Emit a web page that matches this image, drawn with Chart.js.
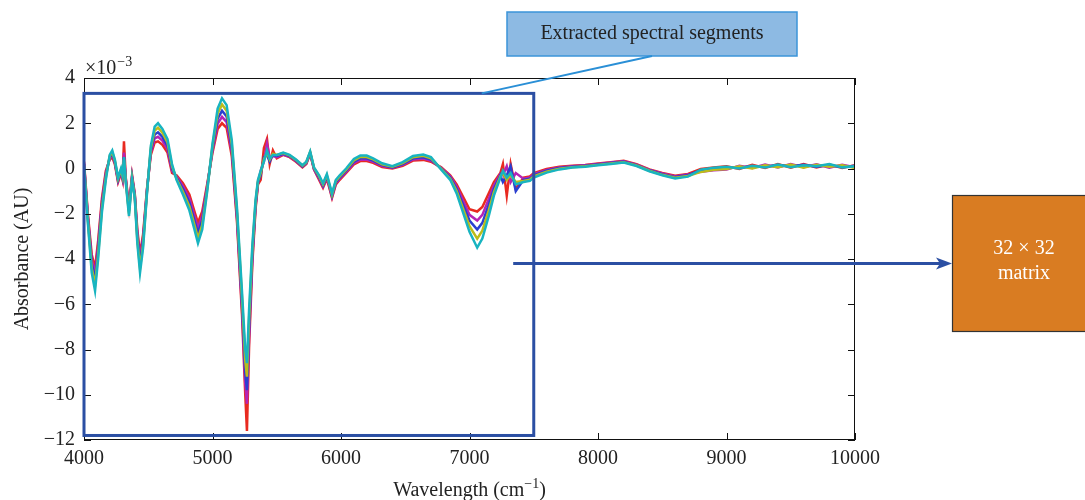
<!DOCTYPE html>
<html lang="en">
<head>
    <meta charset="UTF-8">
    <title>Extracted spectral segments</title>
    <style>
        body {
            margin: 0;
            background: #fff;
        }
        #wrap {
            width: 1085px;
            height: 500px;
            position: relative;
        }
    </style>
</head>
<body>
    <div id="wrap"><canvas id="spectraChart" width="1085" height="500"></canvas></div>
    <script src="https://cdn.jsdelivr.net/npm/chart.js@4"></script>
    <script>
        // wavenumber axis (cm^-1) shared by all spectra
        const wavenumbers = [
            4000, 4030, 4060, 4086, 4110, 4140, 4170, 4200, 4220, 4240,
            4265, 4288, 4300, 4311, 4325, 4350, 4374, 4395, 4415, 4436,
            4460, 4490, 4520, 4550, 4576, 4610, 4650, 4685, 4720, 4770,
            4820, 4860, 4887, 4920, 4960, 5000, 5040, 5074, 5110, 5150,
            5190, 5230, 5255, 5268, 5285, 5310, 5335, 5354, 5375, 5400,
            5424, 5445, 5470, 5500, 5550, 5600, 5650, 5700, 5730, 5760,
            5790, 5830, 5860, 5890, 5930, 5960, 5990, 6040, 6100, 6150,
            6200, 6250, 6320, 6400, 6480, 6560, 6640, 6700, 6780, 6850,
            6900, 6950, 7000, 7060, 7100, 7150, 7190, 7240, 7260, 7290,
            7320, 7360, 7420, 7470, 7500, 7600, 7700, 7800, 7900, 8000,
            8100, 8200, 8300, 8400, 8500, 8600, 8700, 8800, 8900, 9000,
            9100, 9200, 9300, 9400, 9500, 9600, 9700, 9800, 9900, 10000
        ];

        // absorbance values (x10^-3 AU), one array per spectrum
        const absCyan = [
            0.1, -2.4, -4.6, -5.4, -4.0, -1.9, -0.5, 0.6, 0.8, 0.4,
            -0.4, 0.0, -0.3, 0.5, -0.6, -2.1, -0.5, -1.3, -3.3, -4.6,
            -3.5, -1.1, 1.0, 1.85, 2.0, 1.75, 1.3, 0.2, -0.5, -1.15,
            -1.85, -2.7, -3.3, -2.7, -0.95, 1.1, 2.65, 3.1, 2.8, 1.25,
            -1.7, -5.5, -8.0, -8.6, -6.2, -3.4, -1.4, -0.5, -0.1, 0.3,
            0.8, 0.45, 0.6, 0.6, 0.7, 0.6, 0.4, 0.15, 0.3, 0.75,
            0.05, -0.3, -0.65, -0.25, -1.1, -0.5, -0.3, 0.0, 0.42, 0.57,
            0.57, 0.45, 0.23, 0.1, 0.28, 0.55, 0.62, 0.5, -0.05, -0.5,
            -1.1, -1.95, -2.8, -3.5, -3.1, -2.1, -1.2, -0.4, -0.1, -0.4,
            -0.2, -0.7, -0.6, -0.55, -0.4, -0.18, -0.04, 0.04, 0.08, 0.14,
            0.2, 0.26, 0.11, -0.12, -0.3, -0.44, -0.36, -0.05, 0.03, 0.08,
            0.0, 0.12, 0.04, 0.18, 0.06, 0.14, 0.1, 0.2, 0.05, 0.1
        ];
        const absOlive = [
            0.15, -2.3, -4.4, -5.15, -3.8, -1.75, -0.4, 0.55, 0.72, 0.35,
            -0.45, -0.05, -0.35, 0.4, -0.55, -2.0, -0.45, -1.25, -3.15, -4.4,
            -3.35, -1.05, 0.9, 1.68, 1.8, 1.58, 1.15, 0.1, -0.45, -1.03,
            -1.68, -2.5, -3.08, -2.5, -0.88, 1.0, 2.43, 2.83, 2.55, 1.08,
            -1.85, -5.75, -8.5, -9.2, -6.6, -3.6, -1.5, -0.55, -0.2, 0.4,
            0.7, 0.4, 0.65, 0.6, 0.68, 0.58, 0.38, 0.13, 0.28, 0.73,
            0.03, -0.35, -0.7, -0.3, -1.15, -0.55, -0.35, -0.05, 0.36, 0.51,
            0.51, 0.4, 0.19, 0.08, 0.24, 0.5, 0.56, 0.45, -0.02, -0.45,
            -1.0, -1.78, -2.55, -3.1, -2.75, -1.85, -1.05, -0.35, -0.2, -0.5,
            -0.3, -0.6, -0.55, -0.5, -0.35, -0.14, -0.01, 0.06, 0.1, 0.16,
            0.22, 0.28, 0.13, -0.1, -0.28, -0.41, -0.33, -0.15, -0.06, -0.02,
            0.1, 0.0, 0.14, 0.06, 0.18, 0.04, 0.17, 0.08, 0.14, 0.02
        ];
        const absBlue = [
            0.2, -2.2, -4.2, -4.9, -3.6, -1.6, -0.3, 0.5, 0.65, 0.3,
            -0.5, -0.1, -0.4, 0.5, -0.5, -1.9, -0.4, -1.2, -3.0, -4.2,
            -3.2, -1.0, 0.8, 1.5, 1.6, 1.4, 1.0, 0.0, -0.4, -0.9,
            -1.5, -2.3, -2.85, -2.3, -0.8, 0.9, 2.2, 2.55, 2.3, 0.9,
            -2.0, -6.0, -9.0, -9.8, -7.0, -3.8, -1.6, -0.6, -0.3, 0.5,
            0.6, 0.3, 0.6, 0.55, 0.65, 0.55, 0.35, 0.1, 0.25, 0.7,
            0.0, -0.4, -0.75, -0.35, -1.2, -0.6, -0.4, -0.1, 0.3, 0.45,
            0.45, 0.35, 0.15, 0.05, 0.2, 0.45, 0.5, 0.4, 0.0, -0.4,
            -0.9, -1.6, -2.3, -2.7, -2.4, -1.6, -0.9, -0.3, -0.6, -0.3,
            0.1, -1.0, -0.5, -0.45, -0.3, -0.1, 0.02, 0.08, 0.12, 0.18,
            0.24, 0.3, 0.15, -0.08, -0.25, -0.38, -0.3, -0.08, 0.0, 0.06,
            0.03, 0.1, 0.08, 0.15, 0.1, 0.16, 0.08, 0.15, 0.06, 0.12
        ];
        const absMagenta = [
            0.25, -2.1, -4.0, -4.65, -3.4, -1.45, -0.2, 0.45, 0.58, 0.25,
            -0.55, -0.15, -0.45, 0.7, -0.45, -1.8, -0.35, -1.15, -2.85, -4.0,
            -3.05, -0.95, 0.7, 1.33, 1.4, 1.23, 0.85, -0.1, -0.35, -0.78,
            -1.33, -2.1, -2.63, -2.1, -0.73, 0.8, 1.98, 2.28, 2.05, 0.73,
            -2.15, -6.25, -9.5, -10.4, -7.4, -4.0, -1.7, -0.65, -0.1, 0.3,
            1.1, 0.5, 0.55, 0.5, 0.62, 0.53, 0.33, 0.08, 0.23, 0.68,
            -0.03, -0.45, -0.8, -0.4, -1.25, -0.65, -0.45, -0.15, 0.24, 0.39,
            0.39, 0.3, 0.11, 0.03, 0.16, 0.4, 0.44, 0.35, 0.02, -0.35,
            -0.8, -1.43, -2.05, -2.3, -2.05, -1.35, -0.75, -0.25, -0.3, 0.1,
            -0.6, -0.2, -0.45, -0.4, -0.25, -0.06, 0.05, 0.1, 0.14, 0.2,
            0.26, 0.32, 0.17, -0.06, -0.22, -0.35, -0.27, -0.14, -0.08, -0.05,
            0.12, 0.02, 0.18, 0.05, 0.2, 0.06, 0.19, 0.04, 0.16, 0.05
        ];
        const absRed = [
            0.3, -2.0, -3.8, -4.4, -3.2, -1.3, -0.1, 0.4, 0.5, 0.2,
            -0.6, -0.2, -0.5, 1.2, -0.4, -1.7, -0.3, -1.1, -2.7, -3.8,
            -2.9, -0.9, 0.6, 1.15, 1.2, 1.05, 0.7, -0.2, -0.3, -0.65,
            -1.15, -1.9, -2.4, -1.9, -0.65, 0.7, 1.75, 2.0, 1.8, 0.55,
            -2.3, -6.5, -10.0, -11.6, -7.8, -4.2, -1.8, -0.7, -0.5, 0.9,
            1.3, 0.2, 0.8, 0.45, 0.6, 0.5, 0.3, 0.05, 0.2, 0.65,
            -0.05, -0.5, -0.85, -0.45, -1.3, -0.7, -0.5, -0.2, 0.18, 0.33,
            0.33, 0.25, 0.07, 0.0, 0.12, 0.35, 0.38, 0.3, 0.05, -0.3,
            -0.7, -1.25, -1.8, -1.9, -1.7, -1.1, -0.6, -0.2, 0.2, -1.2,
            0.2, -0.9, -0.4, -0.35, -0.2, -0.02, 0.08, 0.12, 0.16, 0.22,
            0.28, 0.34, 0.19, -0.04, -0.2, -0.32, -0.24, -0.02, 0.05, 0.1,
            -0.02, 0.16, 0.02, 0.2, 0.04, 0.2, 0.05, 0.18, 0.02, 0.15
        ];

        const xTicks = [4000, 5000, 6000, 7000, 8000, 9000, 10000];
        const yTicks = [-12, -10, -8, -6, -4, -2, 0, 2, 4];

        // extracted segment window and arrow anchor (data units)
        const segment = { x0: 4000, x1: 7500, yTop: 3.32, yBottom: -11.8 };
        const leaderEnd = { x: 7095, y: 3.32 };
        const arrowStart = { x: 7340, y: -4.2 };

        const serif = '"Liberation Serif", "DejaVu Serif", serif';

        function toPoints(values) {
            return wavenumbers.map((w, i) => ({ x: w, y: values[i] }));
        }

        function line(ctx, x1, y1, x2, y2) {
            ctx.beginPath();
            ctx.moveTo(x1, y1);
            ctx.lineTo(x2, y2);
            ctx.stroke();
        }

        const framePlugin = {
            id: 'frame',
            afterDatasetsDraw(chart) {
                const { ctx, chartArea: a, scales: { x, y } } = chart;
                ctx.save();
                ctx.strokeStyle = '#111';
                ctx.lineWidth = 1;
                ctx.strokeRect(a.left + 0.5, a.top + 0.5, a.width - 1, a.height - 1);
                // matlab style inward ticks on all four sides
                xTicks.forEach(v => {
                    const px = Math.round(x.getPixelForValue(v)) + 0.5;
                    line(ctx, px, a.bottom, px, a.bottom - 7);
                    line(ctx, px, a.top, px, a.top + 7);
                });
                yTicks.forEach(v => {
                    const py = Math.round(y.getPixelForValue(v)) + 0.5;
                    line(ctx, a.left, py, a.left + 7, py);
                    line(ctx, a.right, py, a.right - 7, py);
                });
                ctx.restore();
            },
            afterDraw(chart) {
                const { ctx, chartArea: a, scales: { x, y } } = chart;
                ctx.save();

                // exponent label
                ctx.fillStyle = '#222';
                ctx.textBaseline = 'alphabetic';
                ctx.textAlign = 'left';
                ctx.font = '20px ' + serif;
                ctx.fillText('\u00d710', a.left + 1, a.top - 4);
                const w10 = ctx.measureText('\u00d710').width;
                ctx.font = '14px ' + serif;
                ctx.fillText('\u22123', a.left + 2 + w10, a.top - 12);

                // y title
                ctx.font = '20px ' + serif;
                ctx.save();
                ctx.translate(28, (a.top + a.bottom) / 2);
                ctx.rotate(-Math.PI / 2);
                ctx.textAlign = 'center';
                ctx.fillText('Absorbance (AU)', 0, 0);
                ctx.restore();

                // x title with superscript
                const p1 = 'Wavelength (cm', sup = '\u22121', p2 = ')';
                ctx.font = '20px ' + serif;
                const w1 = ctx.measureText(p1).width, w3 = ctx.measureText(p2).width;
                ctx.font = '14px ' + serif;
                const w2 = ctx.measureText(sup).width;
                let tx = (a.left + a.right) / 2 - (w1 + w2 + w3) / 2;
                const ty = 496;
                ctx.font = '20px ' + serif;
                ctx.fillText(p1, tx, ty);
                ctx.font = '14px ' + serif;
                ctx.fillText(sup, tx + w1, ty - 8);
                ctx.font = '20px ' + serif;
                ctx.fillText(p2, tx + w1 + w2, ty);

                // blue segment window
                const sx0 = x.getPixelForValue(segment.x0), sx1 = x.getPixelForValue(segment.x1);
                const sy0 = y.getPixelForValue(segment.yTop), sy1 = y.getPixelForValue(segment.yBottom);
                ctx.strokeStyle = '#2b4fa3';
                ctx.lineWidth = 3;
                ctx.strokeRect(sx0, sy0, sx1 - sx0, sy1 - sy0);

                // callout box
                const bx = 507, by = 12, bw = 290, bh = 44;
                ctx.fillStyle = '#8dbae3';
                ctx.fillRect(bx, by, bw, bh);
                ctx.strokeStyle = '#3b94d9';
                ctx.lineWidth = 1.5;
                ctx.strokeRect(bx, by, bw, bh);
                ctx.fillStyle = '#222';
                ctx.font = '20px ' + serif;
                ctx.textAlign = 'center';
                ctx.textBaseline = 'middle';
                ctx.fillText('Extracted spectral segments', bx + bw / 2, by + bh / 2);

                // leader line from callout to window
                ctx.strokeStyle = '#2a8fd6';
                ctx.lineWidth = 2;
                line(ctx, bx + bw / 2, by + bh, x.getPixelForValue(leaderEnd.x), y.getPixelForValue(leaderEnd.y));

                // arrow to matrix box
                const ox = 952, oy = 195, ow = 140, oh = 136;
                const ay = y.getPixelForValue(arrowStart.y);
                ctx.strokeStyle = '#2b4fa3';
                ctx.fillStyle = '#2b4fa3';
                ctx.lineWidth = 3;
                line(ctx, x.getPixelForValue(arrowStart.x), ay, ox - 10, ay);
                ctx.beginPath();
                ctx.moveTo(ox, ay);
                ctx.lineTo(ox - 16, ay - 6);
                ctx.lineTo(ox - 12, ay);
                ctx.lineTo(ox - 16, ay + 6);
                ctx.closePath();
                ctx.fill();

                // matrix box
                ctx.fillStyle = '#d97c22';
                ctx.fillRect(ox, oy, ow, oh);
                ctx.strokeStyle = '#333';
                ctx.lineWidth = 1.2;
                ctx.strokeRect(ox + 0.5, oy + 0.5, ow, oh);
                ctx.fillStyle = '#fff';
                ctx.font = '20px ' + serif;
                ctx.fillText('32 \u00d7 32', 1024, 249);
                ctx.fillText('matrix', 1024, 274);

                ctx.restore();
            }
        };

        const colors = ['#18b4c0', '#bcbc1a', '#2a3fd0', '#b524b5', '#e82a20'];
        const series = [absCyan, absOlive, absBlue, absMagenta, absRed];

        const ctx = document.getElementById('spectraChart').getContext('2d');
        new Chart(ctx, {
            type: 'line',
            data: {
                datasets: series.map((vals, i) => ({
                    data: toPoints(vals),
                    borderColor: colors[i],
                    borderWidth: 2.5,
                    pointRadius: 0,
                    tension: 0,
                    fill: false
                }))
            },
            plugins: [framePlugin],
            options: {
                responsive: false,
                animation: false,
                layout: { padding: { left: 0, right: 230, top: 78, bottom: 0 } },
                plugins: {
                    legend: { display: false },
                    tooltip: { enabled: false }
                },
                scales: {
                    x: {
                        type: 'linear',
                        min: 4000,
                        max: 10000,
                        grid: { display: false, drawTicks: false },
                        border: { display: false },
                        afterBuildTicks: s => { s.ticks = xTicks.map(v => ({ value: v })); },
                        afterFit: s => { s.height = 60; },
                        ticks: {
                            color: '#222',
                            font: { family: serif, size: 20 },
                            padding: 7,
                            maxRotation: 0,
                            autoSkip: false,
                            callback: v => String(v)
                        }
                    },
                    y: {
                        min: -12,
                        max: 4,
                        grid: { display: false, drawTicks: false },
                        border: { display: false },
                        afterBuildTicks: s => { s.ticks = yTicks.map(v => ({ value: v })); },
                        afterFit: s => { s.width = 84; },
                        ticks: {
                            color: '#222',
                            font: { family: serif, size: 20 },
                            padding: 9,
                            autoSkip: false,
                            callback: v => String(v).replace('-', '\u2212')
                        }
                    }
                }
            }
        });
    </script>
</body>
</html>
